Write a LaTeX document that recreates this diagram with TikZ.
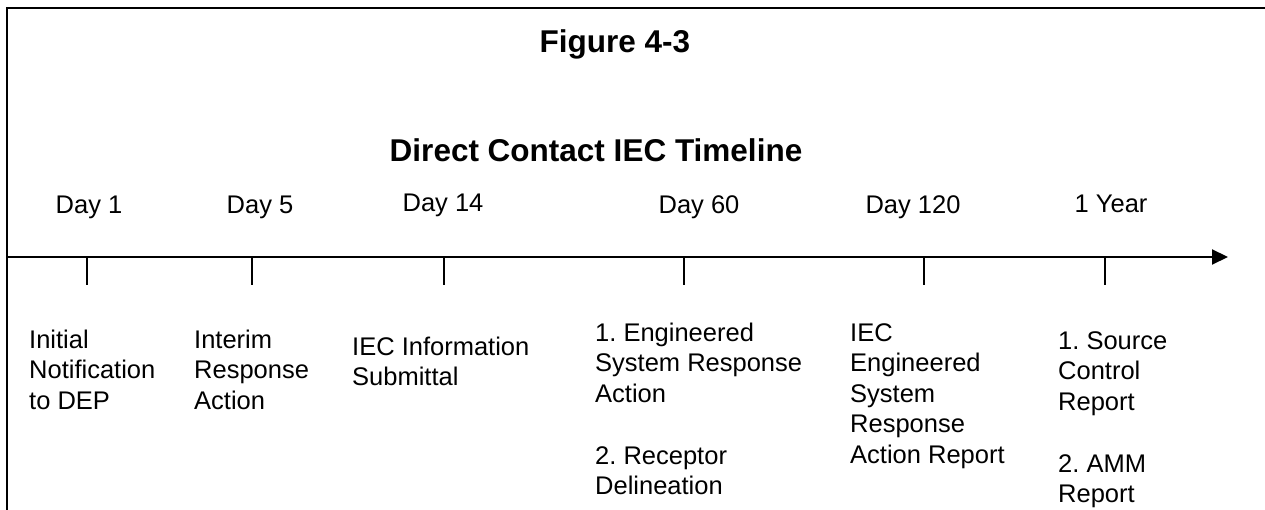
\documentclass[tikz,border=0pt]{standalone}
\usepackage{fontspec}
\setmainfont{Liberation Sans}
\usetikzlibrary{arrows.meta}
\frenchspacing
\newcommand{\tlines}[1]{\begin{tabular}[t]{@{}l@{}}#1\end{tabular}}
\begin{document}
\begin{tikzpicture}[x=1pt,y=-1pt,
  frameline/.style={line width=2pt,black},
  axisline/.style={line width=2pt,-{Triangle[length=16pt,width=15pt]}},
  tickline/.style={line width=1.3pt},
  titletext/.style={font=\fontsize{31.5}{36}\selectfont\bfseries, inner sep=0, anchor=base},
  daytext/.style={font=\fontsize{25.5}{30.5}\selectfont, inner sep=0, anchor=base},
  desctext/.style={font=\fontsize{25.5}{30.5}\selectfont\frenchspacing, inner sep=0, anchor=base west}]
\useasboundingbox (0,0) rectangle (1265,510);
% frame
\coordinate (frTR) at (1265,8);
\coordinate (frTL) at (6.7,8);
\coordinate (frBL) at (6.7,510);
\draw[frameline] (frTR) -- (frTL) -- (frBL);
% titles
\node[titletext] (fig) at (615,53) {Figure 4-3};
\node[titletext] (ttl) at (596,162) {Direct Contact IEC Timeline};
% axis
\coordinate (axS) at (6.7,257);
\coordinate (axE) at (1228,257);
\draw[axisline] (axS) -- (axE);
% ticks
\foreach \nm/\xx in {a/87,b/252,c/444,d/684,e/924,f/1105}{
  \coordinate (tk\nm top) at (\xx,258);
  \coordinate (tk\nm bot) at (\xx,285);
  \draw[tickline] (tk\nm top) -- (tk\nm bot);
}
% day labels
\node[daytext] (d1) at (89,214) {Day 1};
\node[daytext] (d5) at (260,214) {Day 5};
\node[daytext] (d14) at (443,212) {Day 14};
\node[daytext] (d60) at (699,214) {Day 60};
\node[daytext] (d120) at (913,214) {Day 120};
\node[daytext] (y1) at (1111,213) {1 Year};
% descriptions
\node[desctext] (n1) at (29,348) {\tlines{Initial\\Notification\\to DEP}};
\node[desctext] (n5) at (194,348) {\tlines{Interim\\Response\\Action}};
\node[desctext] (n14) at (352,355) {\tlines{IEC Information\\Submittal}};
\node[desctext] (n60a) at (595,341) {\tlines{1. Engineered\\System Response\\Action}};
\node[desctext] (n60b) at (595,464) {\tlines{2. Receptor\\Delineation}};
\node[desctext] (n120) at (850,341) {\tlines{IEC\\Engineered\\System\\Response\\Action Report}};
\node[desctext] (ny1a) at (1058,349) {\tlines{1. Source\\Control\\Report}};
\node[desctext] (ny1b) at (1058,472) {\tlines{2. AMM\\Report}};
\end{tikzpicture}
\end{document}
